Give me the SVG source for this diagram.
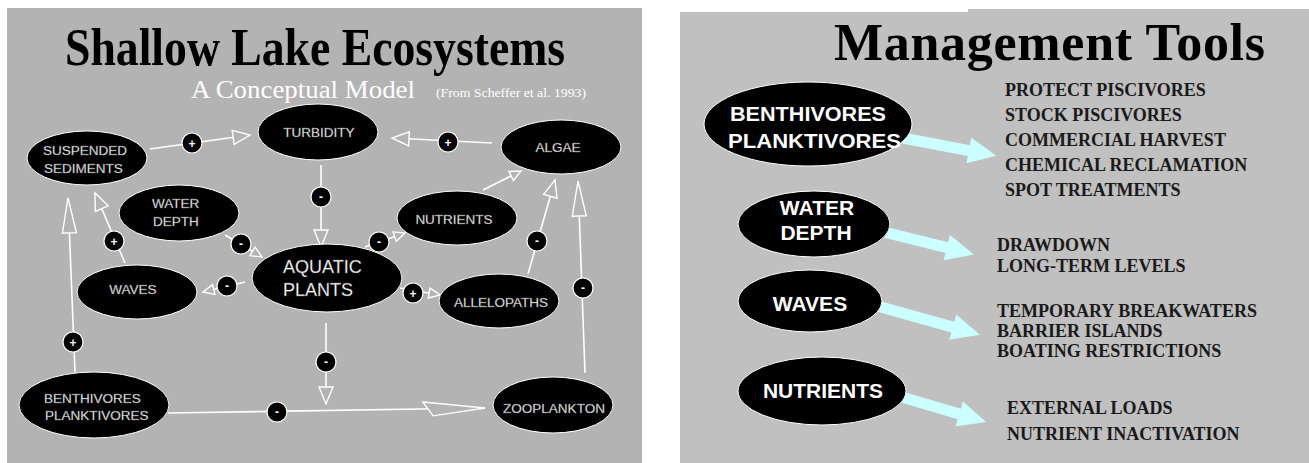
<svg xmlns="http://www.w3.org/2000/svg" width="1309" height="463" viewBox="0 0 1309 463">
<style>
.bgL{fill:#b3b3b3}
.bgR{fill:#c0c0c0}
.node ellipse{fill:#000;stroke:#fff;stroke-width:1}
.nt{font-family:"Liberation Sans",Arial,sans-serif;font-size:13.5px;fill:#fff;stroke:#666;stroke-width:0.3}
.big{font-size:18px}
.rt{font-family:"Liberation Sans",Arial,sans-serif;font-weight:bold;font-size:21px;fill:#fff}
.conn line{stroke:#fff;stroke-width:1.6;fill:none}
.sg circle{fill:#000;stroke:#fff;stroke-width:1.2}
.sg text{font-family:"Liberation Sans",Arial,sans-serif;font-weight:bold;font-size:12px;fill:#fff;text-anchor:middle}
.ah{fill:#b3b3b3;stroke:#fff;stroke-width:1.4}
.tool{font-family:"Liberation Serif","Times New Roman",serif;font-weight:bold;font-size:18px;fill:#1a1a1a}
.blk{fill:#ccffff;stroke:none}
</style>
<defs>
<marker id="aS" viewBox="-2 -2 15 14" refX="11" refY="5" markerWidth="15" markerHeight="14" orient="auto" markerUnits="userSpaceOnUse"><path class="ah" d="M0,0 L11,5 L0,10 Z"/></marker>
<marker id="aM" viewBox="-2 -2 21 18" refX="17" refY="7" markerWidth="21" markerHeight="18" orient="auto" markerUnits="userSpaceOnUse"><path class="ah" d="M0,0 L17,7 L0,14 Z"/></marker>
<marker id="aL" viewBox="-2 -2 40 18" refX="35" refY="7" markerWidth="40" markerHeight="18" orient="auto" markerUnits="userSpaceOnUse"><path class="ah" d="M0,0 L35,7 L0,14 Z"/></marker>
<marker id="aXL" viewBox="-2 -2 66 18" refX="62" refY="7" markerWidth="66" markerHeight="18" orient="auto" markerUnits="userSpaceOnUse"><path class="ah" d="M0,0 L62,7 L10,14 Z"/></marker>
</defs>

<rect class="bgL" x="7" y="8" width="635" height="455"/>
<polygon class="bgR" points="680,12 968,12 968,9 1309,9 1309,463 680,463"/>

<g id="title-left">
<text x="65" y="65" font-family="'Liberation Serif','Times New Roman',serif" font-weight="bold" font-size="52" textLength="500" lengthAdjust="spacingAndGlyphs" fill="#000">Shallow Lake Ecosystems</text>
<text x="191" y="98" font-family="'Liberation Serif','Times New Roman',serif" font-size="26" textLength="224" lengthAdjust="spacingAndGlyphs" fill="#fff">A Conceptual Model</text>
<text x="436" y="97" font-family="'Liberation Serif','Times New Roman',serif" font-size="13" textLength="150" lengthAdjust="spacingAndGlyphs" fill="#fff">(From Scheffer et al. 1993)</text>
</g>

<g id="connectors" class="conn">
<line x1="150" y1="149" x2="250" y2="135" marker-end="url(#aM)"/>
<line x1="492" y1="143" x2="392" y2="138" marker-end="url(#aM)"/>
<line x1="321" y1="165" x2="321" y2="247" marker-end="url(#aM)"/>
<line x1="225" y1="235" x2="262" y2="257" marker-end="url(#aS)"/>
<line x1="245" y1="282" x2="203" y2="292" marker-end="url(#aS)"/>
<line x1="125" y1="263" x2="95" y2="193" marker-end="url(#aM)"/>
<line x1="75" y1="372" x2="68" y2="198" marker-end="url(#aL)"/>
<line x1="365" y1="247" x2="405" y2="233" marker-end="url(#aS)"/>
<line x1="483" y1="190" x2="521" y2="171" marker-end="url(#aS)"/>
<line x1="528" y1="274" x2="555" y2="180" marker-end="url(#aM)"/>
<line x1="585" y1="373" x2="578" y2="181" marker-end="url(#aL)"/>
<line x1="400" y1="288" x2="440" y2="295" marker-end="url(#aS)"/>
<line x1="326" y1="323" x2="326" y2="404" marker-end="url(#aM)"/>
<line x1="168" y1="413" x2="485" y2="408" marker-end="url(#aXL)"/>
<g class="sg">
<circle cx="192" cy="143" r="10"/><text x="192" y="147.5">+</text>
<circle cx="448" cy="142" r="10"/><text x="448" y="146.5">+</text>
<circle cx="321" cy="197" r="10"/><text x="321" y="201">-</text>
<circle cx="241" cy="244" r="10"/><text x="241" y="248">-</text>
<circle cx="227" cy="286" r="10"/><text x="227" y="290">-</text>
<circle cx="114" cy="241" r="10"/><text x="114" y="245.5">+</text>
<circle cx="73" cy="342" r="10"/><text x="73" y="346.5">+</text>
<circle cx="379" cy="242" r="10"/><text x="379" y="246">-</text>
<circle cx="537" cy="241" r="10"/><text x="537" y="245">-</text>
<circle cx="583" cy="288" r="10"/><text x="583" y="292">-</text>
<circle cx="413" cy="293" r="10"/><text x="413" y="297.5">+</text>
<circle cx="326" cy="362" r="10"/><text x="326" y="366">-</text>
<circle cx="277" cy="412" r="10"/><text x="277" y="416">-</text>
</g>
</g>

<g id="suspended-sediments" class="node"><ellipse cx="87" cy="158" rx="60" ry="27"/><text class="nt" x="43" y="155">SUSPENDED</text><text class="nt" x="44" y="173">SEDIMENTS</text></g>
<g id="turbidity" class="node"><ellipse cx="318" cy="132" rx="60" ry="28"/><text class="nt" x="319" y="137" text-anchor="middle">TURBIDITY</text></g>
<g id="algae" class="node"><ellipse cx="561" cy="147" rx="60" ry="27"/><text class="nt" x="558" y="152" text-anchor="middle">ALGAE</text></g>
<g id="water-depth" class="node"><ellipse cx="179" cy="213" rx="60" ry="28"/><text class="nt" x="152" y="208">WATER</text><text class="nt" x="153" y="226">DEPTH</text></g>
<g id="nutrients" class="node"><ellipse cx="457" cy="218" rx="60" ry="27"/><text class="nt" x="454" y="224" text-anchor="middle">NUTRIENTS</text></g>
<g id="aquatic-plants" class="node"><ellipse cx="327" cy="278" rx="75" ry="34"/><text class="nt big" x="283" y="273">AQUATIC</text><text class="nt big" x="283" y="296">PLANTS</text></g>
<g id="waves" class="node"><ellipse cx="137" cy="292" rx="60" ry="27"/><text class="nt" x="133" y="294" text-anchor="middle">WAVES</text></g>
<g id="allelopaths" class="node"><ellipse cx="499" cy="301" rx="60" ry="27"/><text class="nt" x="501" y="307" text-anchor="middle">ALLELOPATHS</text></g>
<g id="benthivores-planktivores" class="node"><ellipse cx="94" cy="405" rx="75" ry="33"/><text class="nt" x="44" y="403">BENTHIVORES</text><text class="nt" x="45" y="420">PLANKTIVORES</text></g>
<g id="zooplankton" class="node"><ellipse cx="553" cy="405" rx="60" ry="28"/><text class="nt" x="554" y="413" text-anchor="middle">ZOOPLANKTON</text></g>

<g id="title-right">
<text x="834" y="60" font-family="'Liberation Serif','Times New Roman',serif" font-weight="bold" font-size="52" textLength="431" lengthAdjust="spacing" fill="#000">Management Tools</text>
</g>

<g id="tool-arrows">
<polygon class="blk" transform="translate(903,138) rotate(10.8)" points="0,-5.5 67,-5.5 67,-13 95,0 67,13 67,5.5 0,5.5"/>
<polygon class="blk" transform="translate(876,230) rotate(14)" points="0,-5.5 73,-5.5 73,-13 101,0 73,13 73,5.5 0,5.5"/>
<polygon class="blk" transform="translate(870,304) rotate(15.6)" points="0,-5.5 86,-5.5 86,-13 114,0 86,13 86,5.5 0,5.5"/>
<polygon class="blk" transform="translate(895,395) rotate(16.5)" points="0,-5.5 67,-5.5 67,-13 95,0 67,13 67,5.5 0,5.5"/>
</g>

<g id="r-benthivores" class="node"><ellipse cx="808" cy="124" rx="104" ry="42"/><text class="rt" x="730" y="121" textLength="156" lengthAdjust="spacingAndGlyphs">BENTHIVORES</text><text class="rt" x="728" y="148" textLength="173" lengthAdjust="spacingAndGlyphs">PLANKTIVORES</text></g>
<g id="r-water-depth" class="node"><ellipse cx="814" cy="224" rx="76" ry="33"/><text class="rt" x="817" y="215" text-anchor="middle">WATER</text><text class="rt" x="816" y="240" text-anchor="middle">DEPTH</text></g>
<g id="r-waves" class="node"><ellipse cx="810" cy="301" rx="72" ry="31"/><text class="rt" x="810" y="311" text-anchor="middle">WAVES</text></g>
<g id="r-nutrients" class="node"><ellipse cx="822" cy="391" rx="84" ry="34"/><text class="rt" x="823" y="398" text-anchor="middle">NUTRIENTS</text></g>

<g id="tools-list">
<text class="tool" x="1005" y="96">PROTECT PISCIVORES</text>
<text class="tool" x="1005" y="121">STOCK PISCIVORES</text>
<text class="tool" x="1005" y="146">COMMERCIAL HARVEST</text>
<text class="tool" x="1005" y="171">CHEMICAL RECLAMATION</text>
<text class="tool" x="1005" y="196">SPOT TREATMENTS</text>
<text class="tool" x="997" y="251">DRAWDOWN</text>
<text class="tool" x="997" y="272">LONG-TERM LEVELS</text>
<text class="tool" x="997" y="317">TEMPORARY BREAKWATERS</text>
<text class="tool" x="997" y="337">BARRIER ISLANDS</text>
<text class="tool" x="997" y="357">BOATING RESTRICTIONS</text>
<text class="tool" x="1007" y="414">EXTERNAL LOADS</text>
<text class="tool" x="1007" y="440">NUTRIENT INACTIVATION</text>
</g>
</svg>
